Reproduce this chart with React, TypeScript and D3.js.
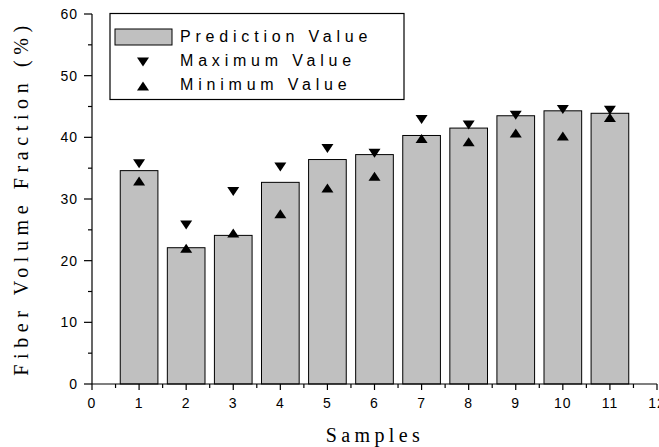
import React from 'react';
import * as d3 from 'd3';

const samples = [1, 2, 3, 4, 5, 6, 7, 8, 9, 10, 11];
const predictionValues = [34.6, 22.1, 24.1, 32.7, 36.4, 37.2, 40.3, 41.5, 43.5, 44.3, 43.9];
const maximumValues = [35.7, 25.8, 31.2, 35.2, 38.2, 37.4, 42.9, 42.0, 43.6, 44.5, 44.4];
const minimumValues = [32.9, 22.0, 24.5, 27.6, 31.8, 33.7, 39.8, 39.3, 40.7, 40.2, 43.2];
const xTicks = [0, 1, 2, 3, 4, 5, 6, 7, 8, 9, 10, 11, 12];
const yTicks = [0, 10, 20, 30, 40, 50, 60];
const legendLabels = ['Prediction Value', 'Maximum Value', 'Minimum Value'];

const W = 659;
const H = 447;

const x = d3.scaleLinear().domain([0, 12]).range([92, 657]);
const y = d3.scaleLinear().domain([0, 60]).range([384, 14]);

const barW = x(0.8) - x(0);
const sans = 'Arial, "Liberation Sans", sans-serif';
const serif = '"Times New Roman", "Liberation Serif", serif';

const tri = (cx: number, cy: number, down: boolean) => {
  const w = 6;
  const h = 4.5;
  return down
    ? `M${cx - w},${cy - h}L${cx + w},${cy - h}L${cx},${cy + h}Z`
    : `M${cx - w},${cy + h}L${cx + w},${cy + h}L${cx},${cy - h}Z`;
};

export default function App() {
  const minorY = d3.range(5, 60, 10);
  const minorX = d3.range(0.5, 12, 1);

  return (
    <svg
      width={W}
      height={H}
      style={{ position: 'absolute', left: 0, top: 0, background: '#fff' }}
    >
      {/* bars */}
      {samples.map((s, i) => (
        <rect
          key={'b' + s}
          x={x(s) - barW / 2}
          y={y(predictionValues[i])}
          width={barW}
          height={y(0) - y(predictionValues[i])}
          fill="#c0c0c0"
          stroke="#000"
          strokeWidth={1}
        />
      ))}

      {/* markers */}
      {samples.map((s, i) => (
        <g key={'m' + s}>
          <path d={tri(x(s), y(maximumValues[i]), true)} fill="#000" />
          <path d={tri(x(s), y(minimumValues[i]), false)} fill="#000" />
        </g>
      ))}

      {/* x axis */}
      <line x1={x(0)} x2={x(12)} y1={y(0)} y2={y(0)} stroke="#000" strokeWidth={1.2} />
      {xTicks.map(t => (
        <g key={'xt' + t}>
          <line x1={x(t)} x2={x(t)} y1={y(0)} y2={y(0) + 6} stroke="#000" strokeWidth={1.2} />
          <text
            x={x(t)}
            y={408}
            textAnchor="middle"
            fontFamily={sans}
            fontSize={14}
            letterSpacing={1}
          >
            {t}
          </text>
        </g>
      ))}
      {minorX.map(t => (
        <line key={'xm' + t} x1={x(t)} x2={x(t)} y1={y(0)} y2={y(0) + 4} stroke="#000" strokeWidth={1.2} />
      ))}

      {/* y axis */}
      <line x1={x(0)} x2={x(0)} y1={y(0)} y2={y(60)} stroke="#000" strokeWidth={1.2} />
      {yTicks.map(t => (
        <g key={'yt' + t}>
          <line x1={x(0) - 8} x2={x(0)} y1={y(t)} y2={y(t)} stroke="#000" strokeWidth={1.2} />
          <text
            x={78}
            y={y(t) + 5}
            textAnchor="end"
            fontFamily={sans}
            fontSize={14}
            letterSpacing={1}
          >
            {t}
          </text>
        </g>
      ))}
      {minorY.map(t => (
        <line key={'ym' + t} x1={x(0) - 4} x2={x(0)} y1={y(t)} y2={y(t)} stroke="#000" strokeWidth={1.2} />
      ))}

      {/* axis titles */}
      <text
        x={375}
        y={442}
        textAnchor="middle"
        fontFamily={serif}
        fontSize={20}
        letterSpacing={4.4}
      >
        Samples
      </text>
      <text
        transform="translate(28,198) rotate(-90)"
        textAnchor="middle"
        fontFamily={serif}
        fontSize={20}
        letterSpacing={5.6}
      >
        Fiber Volume Fraction (%)
      </text>

      {/* legend */}
      <rect x={110} y={13.5} width={294} height={86} fill="#fff" stroke="#000" strokeWidth={1.2} />
      <rect x={115} y={29} width={57} height={16} fill="#c0c0c0" stroke="#000" strokeWidth={1} />
      <path d={tri(143, 62, true)} fill="#000" />
      <path d={tri(143, 86, false)} fill="#000" />
      {legendLabels.map((l, i) => (
        <text
          key={l}
          x={180}
          y={42 + i * 24}
          fontFamily={sans}
          fontSize={16}
          letterSpacing={4.8}
        >
          {l}
        </text>
      ))}
    </svg>
  );
}
